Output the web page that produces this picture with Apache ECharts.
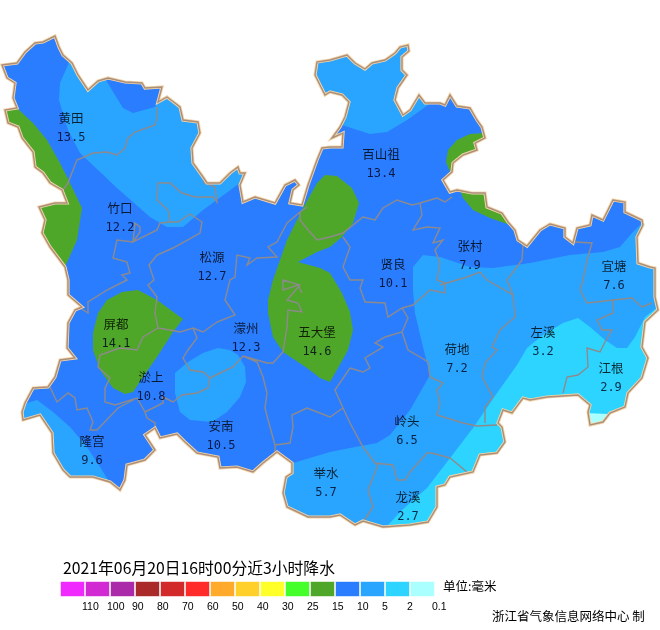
<!DOCTYPE html>
<html>
<head>
<meta charset="utf-8">
<style>html,body{margin:0;padding:0;background:#fff}#main{width:660px;height:630px}</style>
<script src="https://cdn.jsdelivr.net/npm/echarts@6/dist/echarts.min.js"></script>
</head>
<body>
<div id="main"></div>
<script>
// 图例
var levelLabels = ['110','100','90','80','70','60','50','40','30','25','15','10','5','2','0.1'];
var levelColors = ['#f02aff','#d22ad2','#aa2aaa','#aa2a2a','#d22a2a','#ff2a2a','#ffaa2a','#ffd02a','#ffff2a','#44ff2a','#4fa72a','#2b7dff','#2aa5ff','#2cd4ff','#aaffff'];

// 站点
var stationNames = ['黄田','竹口','松源','百山祖','张村','贤良','宜塘','屏都','濛州','五大堡','荷地','左溪','江根','淤上','安南','隆宫','岭头','举水','龙溪'];
var stationRain = [13.5,12.2,12.7,13.4,7.9,10.1,7.6,14.1,12.3,14.6,7.2,3.2,2.9,10.8,10.5,9.6,6.5,5.7,2.7];
var stationLon = [71,120,212,381,470,393,614,116,246,317,457,543,611,151,221,92,407,326,408];
var stationLat = [128,218,267,164,256,274,276,334,338,342,359,342,378,387,436,451,431,483,507];

// 县界外轮廓 (地图坐标)
var outline = [[2,65],[17,63],[25,52],[35,43],[43,42],[55,36],[59,47],[63,55],[72,63],[78,75],[88,90],[98,81],[108,78],[125,82],[142,83],[145,88],[162,87],[158,102],[167,97],[180,107],[183,120],[198,122],[200,133],[192,148],[193,163],[203,177],[207,183],[220,183],[230,173],[238,167],[240,173],[245,173],[240,185],[243,202],[255,197],[275,203],[285,185],[295,180],[299,185],[293,190],[290,203],[302,205],[308,185],[317,160],[322,148],[330,147],[342,147],[343,133],[332,138],[340,127],[345,117],[349,102],[342,95],[330,92],[325,95],[320,85],[315,75],[317,62],[330,60],[347,55],[355,63],[365,69],[372,63],[385,60],[395,53],[400,47],[408,45],[409,51],[402,57],[402,70],[407,75],[398,88],[395,100],[403,115],[410,110],[419,95],[425,103],[440,103],[445,105],[450,95],[457,106],[470,108],[477,120],[482,127],[485,138],[475,143],[477,150],[463,155],[453,163],[452,172],[443,180],[450,192],[457,190],[472,193],[485,193],[487,207],[502,213],[508,222],[515,230],[518,240],[527,246],[540,230],[550,224],[565,228],[565,237],[573,243],[577,228],[590,225],[592,215],[603,220],[613,200],[625,202],[625,212],[642,220],[643,225],[637,237],[638,263],[650,267],[655,268],[655,297],[658,310],[645,322],[642,347],[648,358],[642,378],[628,393],[625,407],[610,413],[603,422],[590,425],[588,412],[590,405],[578,395],[547,397],[530,400],[523,398],[512,413],[503,410],[498,423],[502,427],[505,442],[497,453],[480,455],[473,472],[450,477],[445,485],[437,487],[437,507],[428,522],[410,525],[383,527],[363,521],[355,525],[340,515],[330,517],[308,517],[287,507],[283,493],[286,477],[292,473],[292,463],[277,452],[263,463],[253,472],[237,467],[220,468],[218,457],[197,453],[185,442],[177,434],[160,438],[155,428],[145,435],[155,450],[145,460],[127,465],[125,480],[120,490],[110,482],[93,477],[70,477],[63,470],[53,453],[52,433],[40,415],[23,420],[22,412],[25,403],[33,388],[48,387],[55,377],[60,360],[75,358],[67,348],[68,323],[75,310],[82,307],[68,295],[68,280],[65,267],[50,247],[42,233],[45,220],[39,207],[55,203],[67,203],[62,190],[50,183],[43,173],[35,167],[33,152],[22,138],[18,127],[8,123],[5,110],[17,108],[13,98],[15,83],[7,78]];

// 县界
var countyLines = [
  [[157,107],[157,117],[155,125],[135,132],[128,138],[125,148],[117,155],[107,152],[93,153],[77,160],[73,170],[68,183],[63,190]],
  [[203,182],[215,187],[217,202],[213,197],[195,197],[182,193],[170,183],[158,183],[157,200],[168,210],[170,222],[178,222],[190,214],[202,222],[200,233],[173,248],[157,255],[149,265],[154,280],[148,285],[157,297],[155,313],[158,328],[143,337],[137,350],[120,348],[100,355],[98,367],[110,378],[105,388],[105,402],[115,405],[137,398],[145,412],[147,418],[155,423],[155,430]],
  [[170,222],[160,223],[157,230],[133,242],[140,232],[140,227],[135,223],[133,242],[117,240],[113,258],[127,262],[130,273],[122,275],[127,280],[107,290],[88,302],[88,313],[80,308]],
  [[158,328],[170,330],[180,332],[193,328],[203,332],[217,322],[235,315],[225,300],[230,280],[235,277],[237,255],[250,258],[247,265],[257,258],[277,257],[268,247],[277,242],[287,223],[300,212],[307,207]],
  [[193,328],[197,338],[188,350],[183,358],[190,370],[203,372],[210,378],[208,388],[197,393],[182,395],[173,402],[163,397],[163,403],[145,412]],
  [[210,378],[220,373],[233,367],[243,356],[257,362],[263,377],[267,393],[265,408],[270,427],[275,445],[275,452]],
  [[243,356],[267,363],[273,363],[283,352],[287,327],[288,310],[302,312],[298,303],[287,300],[300,285],[283,280],[283,290],[298,285],[302,293]],
  [[300,212],[300,220],[308,230],[317,240],[330,237],[343,233],[363,217],[375,220],[383,208],[397,200],[412,205],[420,203],[422,215],[413,230],[427,227],[440,228],[433,243],[443,240],[435,250],[440,263],[437,280],[445,283],[445,293],[430,290],[413,305],[402,308]],
  [[420,203],[437,198],[445,202],[452,197]],
  [[50,387],[57,402],[68,393],[75,398],[77,410],[87,408],[93,422],[90,430],[97,430],[118,408],[137,398]],
  [[275,445],[290,443],[293,427],[292,415],[307,408],[330,417],[343,408],[350,423],[363,447],[375,463],[393,465],[397,480],[405,480],[410,472],[427,453],[432,453],[450,458],[467,472]],
  [[375,463],[378,465],[368,490],[373,507],[363,522]],
  [[343,408],[335,390],[350,368],[363,372],[370,368],[365,358],[383,347],[375,343],[385,337],[402,332],[408,318],[402,308],[388,317],[385,303],[365,302],[360,288],[363,280],[350,280],[343,267],[350,247],[343,237]],
  [[402,332],[408,350],[420,357],[428,362],[430,377],[443,383],[437,390],[440,403],[437,415],[463,423],[477,426],[497,425]],
  [[440,285],[467,277],[480,272],[487,280],[513,295],[515,317],[500,330],[492,347],[497,350],[485,363],[482,377],[493,397],[485,407],[485,423]],
  [[523,245],[522,260],[507,280],[513,295]],
  [[575,242],[592,243],[587,260],[583,280],[580,290],[587,303],[613,300],[632,298],[642,307],[652,303]],
  [[613,300],[613,313],[597,320],[602,330],[612,330],[605,342],[600,352],[587,348],[588,367],[578,375],[567,377],[563,393]]
];

// 雨量分区, level 对应图例下标
var zoneBase = [[-5,-5],[665,-5],[665,560],[-5,560]];
var zoneNW = [[68,65],[60,83],[59,100],[68,130],[80,153],[117,188],[150,217],[167,227],[183,227],[203,210],[240,183],[260,150],[200,90],[160,100],[155,107],[133,113],[123,108],[107,82],[100,60],[70,55]];
var zoneNE = [[335,120],[342,125],[370,134],[387,132],[407,120],[428,105],[440,95],[420,30],[305,50],[305,100]];
var zoneEast = [[413,290],[413,267],[423,255],[440,257],[470,267],[493,268],[530,263],[570,255],[603,252],[620,247],[632,233],[643,222],[660,210],[660,440],[480,540],[275,540],[275,470],[293,463],[330,452],[350,448],[377,443],[390,435],[410,410],[430,375],[422,343],[415,313]];
var zoneSW = [[27,403],[37,400],[53,412],[70,427],[87,447],[100,467],[108,480],[100,495],[40,480],[10,420]];
var zoneAnnan = [[175,373],[175,393],[180,412],[190,420],[212,422],[227,412],[240,397],[246,382],[245,367],[238,355],[230,350],[218,348],[203,353],[188,362]];
var zoneSE = [[660,305],[645,317],[635,337],[627,348],[617,348],[605,340],[590,327],[578,318],[563,323],[543,335],[527,348],[517,365],[497,393],[473,428],[447,462],[427,488],[402,510],[388,525],[390,545],[480,545],[660,440]];
var zonePale = [[585,413],[608,414],[612,440],[585,440]];
var zoneWest = [[17,108],[33,123],[47,140],[60,163],[70,183],[82,208],[77,240],[65,267],[40,250],[0,130],[0,105]];
var zonePingdu = [[93,333],[93,350],[100,370],[113,388],[125,394],[133,392],[143,377],[157,357],[173,332],[183,319],[157,300],[138,290],[122,292],[107,300],[98,313]];
var zoneCenter = [[268,300],[273,280],[287,240],[302,210],[317,183],[325,175],[337,176],[352,188],[359,203],[353,223],[342,237],[330,247],[317,252],[298,262],[320,268],[330,273],[342,293],[350,312],[353,330],[348,350],[338,368],[330,382],[320,378],[307,368],[283,352],[273,337],[268,313]];
var zoneNEGreen = [[485,133],[470,134],[457,140],[448,150],[446,162],[450,172],[470,160],[495,145]];
var zoneEGreen = [[463,198],[473,210],[490,218],[510,225],[520,215],[480,185],[460,190]];

var rainZones = [
  {name:'z0', level:11, ring:zoneBase},
  {name:'z1', level:12, ring:zoneNW},
  {name:'z2', level:12, ring:zoneNE},
  {name:'z3', level:12, ring:zoneEast},
  {name:'z4', level:12, ring:zoneSW},
  {name:'z5', level:12, ring:zoneAnnan},
  {name:'z6', level:13, ring:zoneSE},
  {name:'z7', level:14, ring:zonePale},
  {name:'z8', level:10, ring:zoneWest},
  {name:'z9', level:10, ring:zonePingdu},
  {name:'z10', level:10, ring:zoneCenter},
  {name:'z11', level:10, ring:zoneNEGreen},
  {name:'z12', level:10, ring:zoneEGreen}
];

function closeRing(r){ return r.concat([r[0]]); }

function polygonFeature(name, ring){
  return {type:'Feature', properties:{name:name}, geometry:{type:'Polygon', coordinates:[closeRing(ring)]}};
}

function buildGeoJson(){
  var features = [], regions = [];
  rainZones.forEach(function(z){
    features.push(polygonFeature(z.name, z.ring));
    regions.push({name:z.name, itemStyle:{areaColor:levelColors[z.level], borderWidth:0}});
  });
  // 轮廓外盖白
  var mask = [[-5,-5],[-5,560],[665,560],[665,-5],[-5,-5]].concat(closeRing(outline)).concat([[-5,-5]]);
  features.push({type:'Feature', properties:{name:'mask'}, geometry:{type:'Polygon', coordinates:[mask]}});
  regions.push({name:'mask', itemStyle:{areaColor:'#fff', borderWidth:0}});
  features.push({type:'Feature', properties:{name:'county'}, geometry:{type:'MultiLineString', coordinates:countyLines}});
  regions.push({name:'county', itemStyle:{areaColor:'transparent', borderColor:'#8e8a8c', borderWidth:1.4}});
  features.push(polygonFeature('halo', outline));
  regions.push({name:'halo', itemStyle:{areaColor:'transparent', borderColor:'#f6d5a8', borderWidth:3.2}});
  features.push(polygonFeature('border', outline));
  regions.push({name:'border', itemStyle:{areaColor:'transparent', borderColor:'#a98f7c', borderWidth:1.4}});
  echarts.registerMap('county', {type:'FeatureCollection', features:features});
  return regions;
}

var regions = buildGeoJson();
var chart = echarts.init(document.getElementById('main'));

var stationData = stationNames.map(function(n,i){
  return {name:n, value:[stationLon[i], stationLat[i], stationRain[i]]};
});
var legendData = levelColors.map(function(c){
  return {value:1, itemStyle:{color:c}};
});

chart.setOption({
  backgroundColor:'#ffffff',
  animation:false,
  title:[
    {text:'2021年06月20日16时00分近3小时降水', left:63, top:560, padding:0, textStyle:{fontFamily:'"Noto Sans CJK SC"', fontSize:15.8, fontWeight:'normal', color:'#000'}},
    {text:'单位:毫米', left:443, top:580, padding:0, textStyle:{fontFamily:'"Noto Sans CJK SC"', fontSize:12.5, fontWeight:'normal', color:'#000'}},
    {text:'浙江省气象信息网络中心 制', left:492, top:610, padding:0, textStyle:{fontFamily:'"Noto Sans CJK SC"', fontSize:12.5, fontWeight:'normal', color:'#000'}}
  ],
  geo:{
    map:'county',
    silent:true,
    roam:false,
    left:0, top:0, width:660, height:630,
    boundingCoords:[[0,0],[660,630]],
    projection:{
      project:function(p){ return p; },
      unproject:function(p){ return p; }
    },
    label:{show:false},
    itemStyle:{areaColor:'transparent', borderWidth:0},
    regions:regions
  },
  grid:{left:60, width:375, top:581, height:16},
  xAxis:{
    type:'category',
    data:levelLabels,
    axisLine:{show:false},
    axisTick:{show:false},
    axisLabel:{interval:0, align:'left', padding:[0,0,0,9.5], margin:5, fontFamily:'"Liberation Sans"', fontSize:10.5, color:'#000'}
  },
  yAxis:{type:'value', min:0, max:1, show:false},
  series:[
    {
      type:'scatter',
      coordinateSystem:'geo',
      symbolSize:0,
      silent:true,
      data:stationData,
      label:{
        show:true,
        position:'inside',
        formatter:function(p){
          return '{n|'+p.name+'}\n{v|'+p.value[2].toFixed(1)+'}';
        },
        rich:{
          n:{fontFamily:'"Noto Sans CJK SC"', fontSize:12.5, lineHeight:19, color:'#000', align:'center'},
          v:{fontFamily:'"DejaVu Sans Mono"', fontSize:12, lineHeight:19, color:'#000018', align:'center'}
        }
      }
    },
    {
      type:'bar',
      silent:true,
      barWidth:'100%',
      data:legendData,
      itemStyle:{borderColor:'rgba(255,255,255,0.55)', borderWidth:1}
    }
  ]
});
</script>
</body>
</html>
